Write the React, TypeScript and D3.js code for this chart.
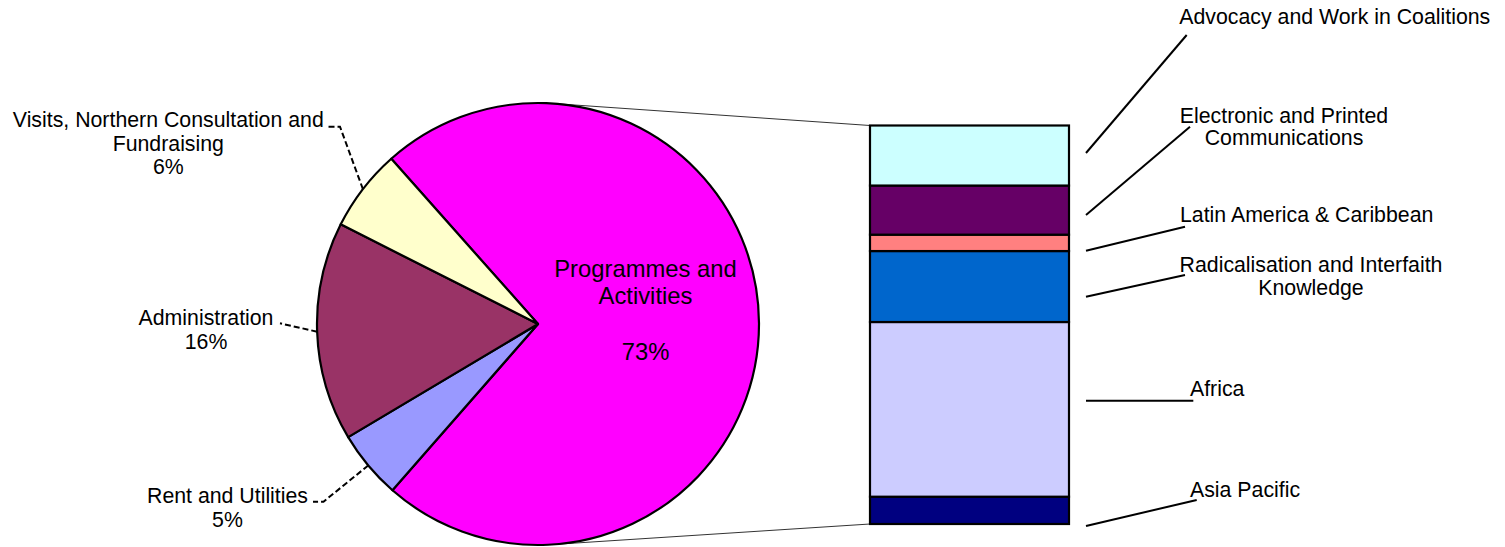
import React from 'react';
import * as d3 from 'd3';

// ---- Data ----
const pieCategories = [
  'Programmes and\nActivities',
  'Rent and Utilities',
  'Administration',
  'Visits, Northern Consultation and\nFundraising',
];
const pieValues = [73, 5, 16, 6];
const pieColors = ['#FF00FF', '#9999FF', '#993366', '#FFFFCC'];

const barCategories = [
  'Asia Pacific',
  'Africa',
  'Radicalisation and Interfaith\nKnowledge',
  'Latin America & Caribbean',
  'Electronic and Printed\nCommunications',
  'Advocacy and Work in Coalitions',
];
const barValues = [5, 32, 13, 3, 9, 11];
const barColors = ['#000080', '#CCCCFF', '#0066CC', '#FF8080', '#660066', '#CCFFFF'];

// ---- Layout ----
const W = 1505;
const H = 547;
const cx = 538;
const cy = 324;
const R = 221;
const startDeg = -41.6;
const barX0 = 870;
const barX1 = 1069;
const barTop = 125.5;
const barBottom = 524;
const FONT = '"Liberation Sans", Arial, Helvetica, sans-serif';
const FS = 21.3;
const LH = 23.5;

// label layouts for pie slices (index-aligned with pieCategories)
const pieLabelLayout = [
  { x: 645.5, y: 276.7, anchor: 'middle', inside: true, elbow: null as null | number[][] },
  { x: 227.5, y: 503, anchor: 'middle', inside: false, elbow: [[323.5, 501.7], [313, 501.7]] },
  { x: 206, y: 325, anchor: 'middle', inside: false, elbow: [[280, 323.3]] },
  { x: 168.3, y: 127.3, anchor: 'middle', inside: false, elbow: [[340, 126.7], [328, 126.7]] },
];

// label layouts for bar segments (index-aligned with barCategories)
const barLabelLayout = [
  { x: 1190, y: 496.7, anchor: 'start', dy: 15.6, end: [1196.7, 500] },
  { x: 1190, y: 396, anchor: 'start', dy: -8.7, end: [1193.3, 400.7] },
  { x: 1311, y: 272.3, anchor: 'middle', dy: 10.2, end: [1185, 275] },
  { x: 1180, y: 221.7, anchor: 'start', dy: 7.9, end: [1185, 226.7] },
  { x: 1284, y: 122.7, anchor: 'middle', dy: 5, end: [1190, 126.7] },
  { x: 1179.3, y: 24, anchor: 'start', dy: -2.5, end: [1186.7, 35] },
];
const leaderX0 = 1086;

function tangentPoint(px: number, py: number, upper: boolean): [number, number] {
  const dx = px - cx;
  const dy = py - cy;
  const d = Math.sqrt(dx * dx + dy * dy);
  const base = Math.atan2(dy, dx);
  const off = Math.acos(R / d);
  const a = upper ? base - off : base + off;
  return [cx + R * Math.cos(a), cy + R * Math.sin(a)];
}

export default function App() {
  const total = d3.sum(pieValues);
  const start = (startDeg * Math.PI) / 180;
  const pie = d3
    .pie<number>()
    .sort(null)
    .startAngle(start)
    .endAngle(start + 2 * Math.PI);
  const arcs = pie(pieValues);
  const arcGen = d3.arc<d3.PieArcDatum<number>>().innerRadius(0).outerRadius(R);

  const barTotal = d3.sum(barValues);
  const y = d3.scaleLinear().domain([0, barTotal]).range([barBottom, barTop]);
  const cum = d3.cumsum(barValues);
  const segs = barValues.map((v, i) => ({ v, y0: cum[i] - v, y1: cum[i] }));

  const tTop = tangentPoint(barX0, barTop, true);
  const tBot = tangentPoint(barX0, barBottom, false);

  return (
    <svg
      width={W}
      height={H}
      viewBox={`0 0 ${W} ${H}`}
      style={{ position: 'absolute', left: 0, top: 0, background: '#fff' }}
      fontFamily={FONT}
    >
      <rect x={0} y={0} width={W} height={H} fill="#fff" />
      {/* connector lines */}
      <line x1={tTop[0]} y1={tTop[1]} x2={barX0} y2={barTop} stroke="#333" strokeWidth={1} />
      <line x1={tBot[0]} y1={tBot[1]} x2={barX0} y2={barBottom} stroke="#333" strokeWidth={1} />

      {/* pie */}
      <g transform={`translate(${cx},${cy})`}>
        {arcs.map((a, i) => (
          <path key={i} d={arcGen(a) || ''} fill={pieColors[i]} stroke="#000" strokeWidth={2.2} strokeLinejoin="round" />
        ))}
      </g>

      {/* pie labels */}
      {arcs.map((a, i) => {
        const L = pieLabelLayout[i];
        const pct = `${Math.round((a.value / total) * 100)}%`;
        const nameLines = pieCategories[i].split('\n');
        if (L.inside) {
          const lines = [...nameLines, '', pct];
          return (
            <text key={i} x={L.x} y={L.y} textAnchor="middle" fontSize={23.8} fill="#000">
              {lines.map((ln, k) => (
                <tspan key={k} x={L.x} y={L.y + k * 27.7}>
                  {ln}
                </tspan>
              ))}
            </text>
          );
        }
        const mid = (a.startAngle + a.endAngle) / 2;
        const px = cx + R * Math.sin(mid);
        const py = cy - R * Math.cos(mid);
        const pts: number[][] = [[px, py], ...(L.elbow || [])];
        const lines = [...nameLines, pct];
        return (
          <g key={i}>
            <path
              d={d3.line()(pts as [number, number][]) || ''}
              fill="none"
              stroke="#000"
              strokeWidth={2}
              strokeDasharray="6,3"
            />
            <text x={L.x} y={L.y} textAnchor="middle" fontSize={FS} fill="#000">
              {lines.map((ln, k) => (
                <tspan key={k} x={L.x} y={L.y + k * LH}>
                  {ln}
                </tspan>
              ))}
            </text>
          </g>
        );
      })}

      {/* bar of pie */}
      {segs.map((s, i) => (
        <rect
          key={i}
          x={barX0}
          y={y(s.y1)}
          width={barX1 - barX0}
          height={y(s.y0) - y(s.y1)}
          fill={barColors[i]}
          stroke="#000"
          strokeWidth={2.2}
        />
      ))}

      {/* bar labels */}
      {segs.map((s, i) => {
        const L = barLabelLayout[i];
        const midY = (y(s.y0) + y(s.y1)) / 2;
        const lines = barCategories[i].split('\n');
        return (
          <g key={i}>
            <line x1={leaderX0} y1={midY + L.dy} x2={L.end[0]} y2={L.end[1]} stroke="#000" strokeWidth={2} />
            <text x={L.x} y={L.y} textAnchor={L.anchor} fontSize={FS} fill="#000">
              {lines.map((ln, k) => (
                <tspan key={k} x={L.x} y={L.y + k * 22.5}>
                  {ln}
                </tspan>
              ))}
            </text>
          </g>
        );
      })}
    </svg>
  );
}
